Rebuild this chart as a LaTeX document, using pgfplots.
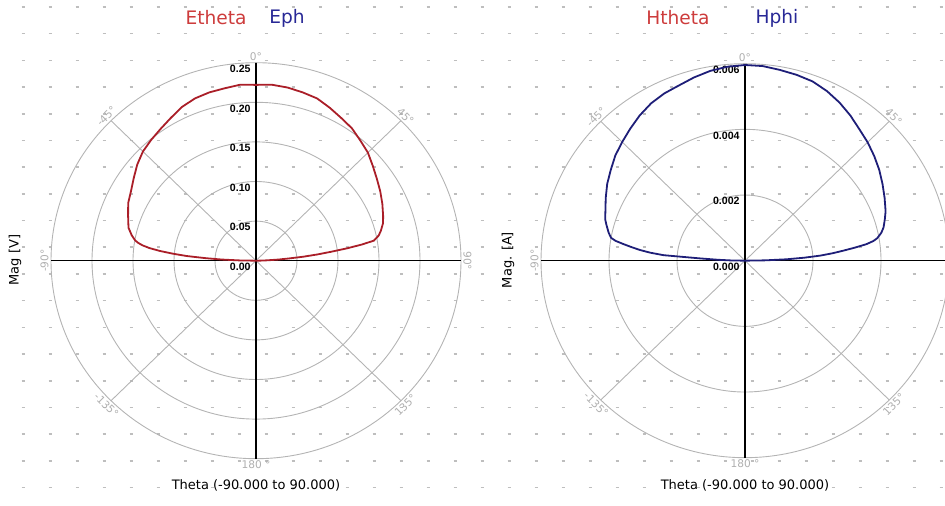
\documentclass[border=0pt]{standalone}
\usepackage{fontspec}
\setmainfont{Liberation Sans}
\newfontfamily\dvs{DejaVu Sans}
\usepackage{pgfplots}
\usepackage{pgfplotstable}
\pgfplotsset{compat=1.18}
\definecolor{ered}{RGB}{170,30,40}
\definecolor{eblue}{RGB}{30,30,120}
\definecolor{tred}{RGB}{205,60,60}
\definecolor{tblue}{RGB}{40,40,150}
\definecolor{gridc}{RGB}{180,180,180}
\definecolor{dotc}{RGB}{190,190,190}
\definecolor{anglec}{RGB}{175,175,175}

% Etheta: theta (deg), magnitude (V)
\pgfplotstableread{
theta r
-90 0.000
-89 0.020
-88 0.042
-87 0.062
-86 0.085
-85 0.102
-84 0.118
-83 0.131
-82 0.140
-81 0.146
-80 0.150
-78 0.155
-75 0.161
-70 0.166
-65 0.172
-60 0.176
-55 0.182
-50 0.189
-45 0.195
-40 0.199
-35 0.203
-30 0.208
-25 0.214
-20 0.218
-15 0.220
-10 0.221
-5 0.223
0 0.222
5 0.223
10 0.222
15 0.220
20 0.218
25 0.213
30 0.208
35 0.204
40 0.198
45 0.193
50 0.186
55 0.180
60 0.175
65 0.170
70 0.165
73 0.162
76 0.157
78 0.153
80 0.146
81 0.131
82 0.112
83 0.092
84 0.075
85 0.058
86 0.040
87 0.027
88 0.014
89 0.006
90 0.000
}\Etheta

% Eph: theta (deg), magnitude (V)
\pgfplotstableread{
theta r
-90 0.000
0 0.000
90 0.000
}\Eph

% Htheta: theta (deg), magnitude (A)
\pgfplotstableread{
theta r
-90 0.000
0 0.000
90 0.000
}\Htheta

% Hphi: theta (deg), magnitude (A)
\pgfplotstableread{
theta r
-90 0.00000
-89 0.00040
-88 0.00080
-87 0.00132
-86 0.00240
-85 0.00280
-84 0.00310
-83 0.00335
-82 0.00360
-81 0.00385
-80 0.00400
-78 0.00410
-75 0.00422
-73 0.00430
-70 0.00437
-65 0.00452
-60 0.00468
-55 0.00482
-50 0.00498
-45 0.00511
-40 0.00525
-35 0.00540
-30 0.00553
-25 0.00562
-20 0.00568
-15 0.00578
-10 0.00587
-5 0.00593
0 0.00596
5 0.00595
10 0.00590
15 0.00586
20 0.00581
25 0.00570
30 0.00556
35 0.00540
40 0.00523
45 0.00510
50 0.00496
55 0.00482
60 0.00467
65 0.00453
70 0.00440
73 0.00430
76 0.00420
78 0.00410
80 0.00395
81 0.00382
82 0.00360
83 0.00325
84 0.00290
85 0.00258
86 0.00222
87 0.00175
88 0.00123
89 0.00060
90 0.00000
}\Hphi

\pgfplotsset{
  polstyle/.style={
    anchor=south west, scale only axis,
    axis lines=none, clip=false,
  },
  curve/.style={no markers, line width=0.9pt,},
}
\tikzset{
  gc/.style={gridc, line width=0.45pt},
  rl/.style={anchor=north east, inner sep=0pt, xshift=-2.5pt, yshift=-1pt, font=\bfseries\fontsize{5.3}{6}\selectfont},
  al/.style={inner sep=1pt, text=anglec, font=\dvs\fontsize{5.3}{6}\selectfont},
  tt/.style={font=\dvs\fontsize{9.3}{10}\selectfont},
  lab/.style={font=\dvs\fontsize{6.5}{7}\selectfont},
}

\begin{document}
\begin{tikzpicture}
\useasboundingbox (0,0) rectangle (472.5pt,253pt);
% background dotted grid
\foreach \k in {0,...,18} {
  \pgfmathsetmacro{\yy}{(506-7-26.7*\k)*0.5}
  \draw[dotc, line width=0.8pt, dash pattern=on 1.8pt off 11.7pt] (10.75pt,\yy pt) -- (472.5pt,\yy pt);
}

% ---------------- Left: E field ----------------
\begin{axis}[polstyle, at={(0pt,15.5pt)}, width=236pt, height=235pt,
  xmin=-0.31220, xmax=0.26341, ymin=-0.27058, ymax=0.32285]
  \draw[gc] (axis cs:0,0) ellipse [x radius=0.05, y radius=0.05];
  \draw[gc] (axis cs:0,0) ellipse [x radius=0.10, y radius=0.10];
  \draw[gc] (axis cs:0,0) ellipse [x radius=0.15, y radius=0.15];
  \draw[gc] (axis cs:0,0) ellipse [x radius=0.20, y radius=0.20];
  \draw[gc] (axis cs:0,0) ellipse [x radius=0.25, y radius=0.25];
  \draw[gc] (axis cs:0.17678,0.17678) -- (axis cs:-0.17678,-0.17678);
  \draw[gc] (axis cs:-0.17678,0.17678) -- (axis cs:0.17678,-0.17678);
  \draw[black, line width=0.75pt] (axis cs:-0.25,0) -- (axis cs:0.25,0);
  \draw[black, line width=0.75pt] (axis cs:0,-0.25) -- (axis cs:0,0.25);
  \node[rl] at (axis cs:0,0.25) {0.25};
  \node[rl] at (axis cs:0,0.20) {0.20};
  \node[rl] at (axis cs:0,0.15) {0.15};
  \node[rl] at (axis cs:0,0.10) {0.10};
  \node[rl] at (axis cs:0,0.05) {0.05};
  \node[rl] at (axis cs:0,0) {0.00};
  \node[al, anchor=south] at (axis cs:0,0.25) {0°};
  \node[al, anchor=north] at (axis cs:0,-0.25) {180 °};
  \node[al, anchor=south, rotate=-90] at (axis cs:0.25,0) {90°};
  \node[al, anchor=south, rotate=90] at (axis cs:-0.25,0) {-90°};
  \node[al, anchor=south, rotate=-45] at (axis cs:0.17678,0.17678) {45°};
  \node[al, anchor=south, rotate=45] at (axis cs:-0.17678,0.17678) {-45°};
  \node[al, anchor=north, rotate=45] at (axis cs:0.17678,-0.17678) {135°};
  \node[al, anchor=north, rotate=-45] at (axis cs:-0.17678,-0.17678) {-135°};
  \addplot[curve, eblue] table[x expr={\thisrow{r}*sin(\thisrow{theta})}, y expr={\thisrow{r}*cos(\thisrow{theta})}] {\Eph};
  \addplot[curve, ered] table[x expr={\thisrow{r}*sin(\thisrow{theta})}, y expr={\thisrow{r}*cos(\thisrow{theta})}] {\Etheta};
\end{axis}

% ---------------- Right: H field ----------------
\begin{axis}[polstyle, at={(236pt,15.5pt)}, width=236.5pt, height=235pt,
  xmin=-0.0080294, xmax=0.0058824, ymin=-0.0065270, ymax=0.0077879]
  \draw[gc] (axis cs:0,0) ellipse [x radius=0.002, y radius=0.002];
  \draw[gc] (axis cs:0,0) ellipse [x radius=0.004, y radius=0.004];
  \draw[gc] (axis cs:0,0) ellipse [x radius=0.006, y radius=0.006];
  \draw[gc] (axis cs:0.0042426,0.0042426) -- (axis cs:-0.0042426,-0.0042426);
  \draw[gc] (axis cs:-0.0042426,0.0042426) -- (axis cs:0.0042426,-0.0042426);
  \draw[black, line width=0.75pt] (axis cs:-0.006,0) -- (axis cs:0.006,0);
  \draw[black, line width=0.75pt] (axis cs:0,-0.006) -- (axis cs:0,0.006);
  \node[rl] at (axis cs:0,0.006) {0.006};
  \node[rl] at (axis cs:0,0.004) {0.004};
  \node[rl] at (axis cs:0,0.002) {0.002};
  \node[rl] at (axis cs:0,0) {0.000};
  \node[al, anchor=south] at (axis cs:0,0.006) {0°};
  \node[al, anchor=north] at (axis cs:0,-0.006) {180 °};
  \node[al, anchor=south, rotate=90] at (axis cs:-0.006,0) {-90°};
  \node[al, anchor=south, rotate=-45] at (axis cs:0.0042426,0.0042426) {45°};
  \node[al, anchor=south, rotate=45] at (axis cs:-0.0042426,0.0042426) {-45°};
  \node[al, anchor=north, rotate=45] at (axis cs:0.0042426,-0.0042426) {135°};
  \node[al, anchor=north, rotate=-45] at (axis cs:-0.0042426,-0.0042426) {-135°};
  \addplot[curve, ered] table[x expr={\thisrow{r}*sin(\thisrow{theta})}, y expr={\thisrow{r}*cos(\thisrow{theta})}] {\Htheta};
  \addplot[curve, eblue] table[x expr={\thisrow{r}*sin(\thisrow{theta})}, y expr={\thisrow{r}*cos(\thisrow{theta})}] {\Hphi};
\end{axis}

% titles (series names)
\node[tt, text=tred] at (108pt,244pt) {Etheta};
\node[tt, text=tblue] at (143.5pt,244pt) {Eph};
\node[tt, text=tred] at (339pt,244pt) {Htheta};
\node[tt, text=tblue] at (388.5pt,244pt) {Hphi};
% axis labels
\node[lab, rotate=90] at (7.5pt,123pt) {Mag [V]};
\node[lab, rotate=90] at (254pt,123pt) {Mag. [A]};
\node[lab] at (128pt,10.5pt) {Theta (-90.000 to 90.000)};
\node[lab] at (372.5pt,10.5pt) {Theta (-90.000 to 90.000)};
\end{tikzpicture}
\end{document}
